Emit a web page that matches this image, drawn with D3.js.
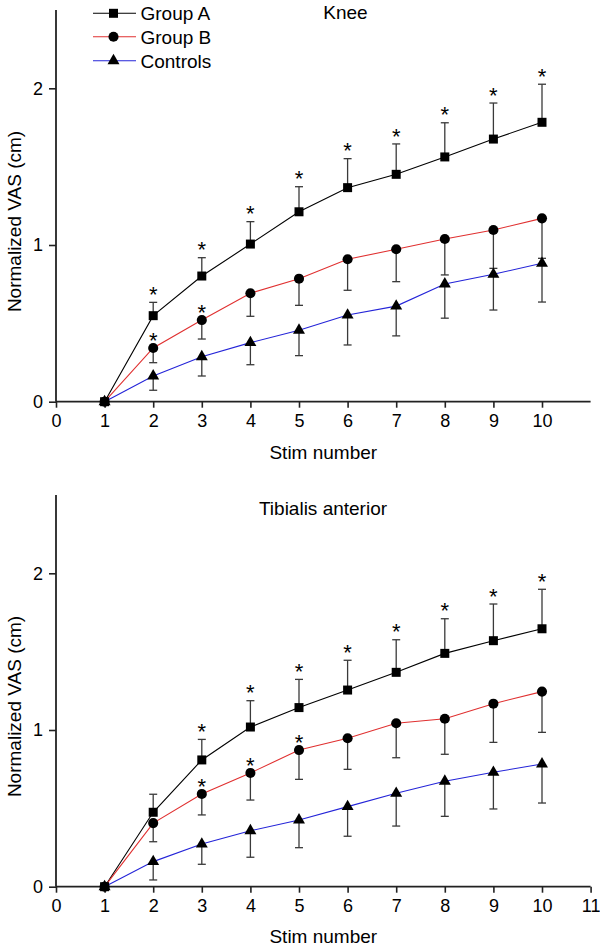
<!DOCTYPE html>
<html>
<head>
<meta charset="utf-8">
<script src="https://cdn.jsdelivr.net/npm/d3@7"></script>
<style>
  html, body { margin: 0; padding: 0; background: #fff; }
  svg { display: block; }
  text { font-family: Arial, "Liberation Sans", Helvetica, sans-serif; fill: #000; }
</style>
</head>
<body>
<svg id="chart" width="600" height="949"></svg>
<script>
// ---------- data ----------
const stims = [1, 2, 3, 4, 5, 6, 7, 8, 9, 10];
const seriesNames = ["Group A", "Group B", "Controls"];
const xTicksTop = [0, 1, 2, 3, 4, 5, 6, 7, 8, 9, 10];
const xTicksBottom = [0, 1, 2, 3, 4, 5, 6, 7, 8, 9, 10, 11];
const yTicks = [0, 1, 2];

// Knee panel
const kneeA    = [0, 0.549, 0.802, 1.006, 1.212, 1.366, 1.451, 1.562, 1.676, 1.783];
const kneeAerr = [0, 0.085, 0.117, 0.143, 0.160, 0.185, 0.194, 0.218, 0.230, 0.243];
const kneeB    = [0, 0.343, 0.521, 0.692, 0.785, 0.909, 0.973, 1.038, 1.096, 1.170];
const kneeBerr = [0, 0.094, 0.121, 0.147, 0.170, 0.198, 0.207, 0.229, 0.245, 0.255];
const kneeC    = [0, 0.164, 0.287, 0.377, 0.456, 0.553, 0.610, 0.751, 0.813, 0.883];
const kneeCerr = [0, 0.091, 0.123, 0.141, 0.162, 0.191, 0.190, 0.218, 0.228, 0.247];
const kneeStarA = [0, 1, 1, 1, 1, 1, 1, 1, 1, 1];
const kneeStarB = [0, 1, 1, 0, 0, 0, 0, 0, 0, 0];

// Tibialis anterior panel
const taA    = [0, 0.475, 0.809, 1.019, 1.143, 1.255, 1.368, 1.489, 1.570, 1.646];
const taAerr = [0, 0.115, 0.131, 0.168, 0.180, 0.190, 0.208, 0.221, 0.234, 0.252];
const taB    = [0, 0.406, 0.592, 0.726, 0.872, 0.947, 1.043, 1.072, 1.168, 1.245];
const taBerr = [0, 0.119, 0.134, 0.173, 0.187, 0.198, 0.220, 0.227, 0.247, 0.260];
const taC    = [0, 0.160, 0.272, 0.357, 0.426, 0.511, 0.596, 0.673, 0.730, 0.783];
const taCerr = [0, 0.117, 0.129, 0.169, 0.177, 0.189, 0.209, 0.224, 0.234, 0.249];
const taStarA = [0, 0, 1, 1, 1, 1, 1, 1, 1, 1];
const taStarB = [0, 0, 1, 1, 1, 0, 0, 0, 0, 0];

// ---------- styles ----------
const colors = ["#000000", "#e03030", "#2424d8"];
const symbols = [d3.symbolSquare, d3.symbolCircle, d3.symbolTriangle];
const symSizes = [81, 80, 62];
const errDir = [1, -1, -1]; // A up, B and Controls down
const FONT = 19;

const svg = d3.select("#chart");

function drawPanel(cfg) {
  const g = svg.append("g");
  const x = d3.scaleLinear().domain([0, 11]).range([56, 590.6]);
  const y = d3.scaleLinear().domain([0, 2.5]).range([cfg.y0, cfg.y0 - 2.5 * 156.7]);

  // axes
  const xAxis = d3.axisBottom(x).tickValues(cfg.xTicks).tickSize(6).tickPadding(7)
    .tickFormat(d3.format("d"));
  const gx = g.append("g").attr("transform", `translate(0,${y(0)})`).call(xAxis);
  const yAxis = d3.axisLeft(y).tickValues(yTicks).tickSize(7).tickPadding(6)
    .tickFormat(d3.format("d"));
  const gy = g.append("g").attr("transform", `translate(${x(0)},0)`).call(yAxis);
  [gx, gy].forEach(a => {
    a.select(".domain").attr("stroke", "#222").attr("stroke-width", 1.8);
    a.selectAll(".tick line").attr("stroke", "#222").attr("stroke-width", 1.6);
    a.selectAll(".tick text").style("font-size", "18px")
      .style("font-family", 'Arial, "Liberation Sans", sans-serif').attr("fill", "#000");
  });
  gx.select(".domain").attr("d", `M${x(0)},0H${x(11)}`);
  gy.select(".domain").attr("d", `M0,${y(0)}V${y(2.5)}`);

  // labels
  g.append("text")
    .attr("transform", `translate(21,${y(1.15)}) rotate(-90)`)
    .attr("text-anchor", "middle").style("font-size", FONT + "px")
    .text("Normalized VAS (cm)");
  g.append("text")
    .attr("x", (x(0) + x(11)) / 2).attr("y", cfg.xLabelY)
    .attr("text-anchor", "middle").style("font-size", FONT + "px")
    .text("Stim number");
  g.append("text")
    .attr("x", cfg.titleX).attr("y", cfg.titleY)
    .attr("text-anchor", "middle").style("font-size", FONT + "px")
    .text(cfg.title);

  const line = d3.line().x((d, i) => x(stims[i])).y(d => y(d));

  // lines
  cfg.values.forEach((vals, s) => {
    g.append("path").datum(vals).attr("d", line)
      .attr("fill", "none").attr("stroke", colors[s]).attr("stroke-width", 1.1);
  });

  // error bars
  cfg.values.forEach((vals, s) => {
    const errs = cfg.errs[s];
    const eg = g.append("g").attr("stroke", "#3a3a3a").attr("stroke-width", 1.3);
    vals.forEach((v, i) => {
      if (errs[i] <= 0) return;
      const xe = x(stims[i]);
      const end = v + errDir[s] * errs[i];
      eg.append("line").attr("x1", xe).attr("x2", xe).attr("y1", y(v)).attr("y2", y(end));
      eg.append("line").attr("x1", xe - 4).attr("x2", xe + 4).attr("y1", y(end)).attr("y2", y(end));
    });
  });

  // markers
  cfg.values.forEach((vals, s) => {
    g.append("g").selectAll("path").data(vals).join("path")
      .attr("transform", (d, i) => `translate(${x(stims[i])},${y(d)})`)
      .attr("d", d3.symbol().type(symbols[s]).size(symSizes[s]))
      .attr("fill", "#000");
  });

  // significance stars
  const starFs = 22;
  const starOff = 0.575 * starFs;
  cfg.starsA.forEach((f, i) => {
    if (!f) return;
    const cy = y(cfg.values[0][i] + cfg.errs[0][i]) - 13;
    g.append("text").attr("x", x(stims[i])).attr("y", cy + starOff)
      .attr("text-anchor", "middle").style("font-size", starFs + "px").text("*");
  });
  cfg.starsB.forEach((f, i) => {
    if (!f) return;
    const cy = y(cfg.values[1][i]) - 13;
    g.append("text").attr("x", x(stims[i])).attr("y", cy + starOff)
      .attr("text-anchor", "middle").style("font-size", starFs + "px").text("*");
  });
}

drawPanel({
  y0: 401.7, xTicks: xTicksTop, xLabelY: 459, title: "Knee", titleX: 345.5, titleY: 19,
  values: [kneeA, kneeB, kneeC], errs: [kneeAerr, kneeBerr, kneeCerr],
  starsA: kneeStarA, starsB: kneeStarB
});
drawPanel({
  y0: 886.7, xTicks: xTicksBottom, xLabelY: 943, title: "Tibialis anterior", titleX: 323, titleY: 515,
  values: [taA, taB, taC], errs: [taAerr, taBerr, taCerr],
  starsA: taStarA, starsB: taStarB
});

// legend
const legend = svg.append("g");
const legendRows = [13.3, 36.7, 60.7];
seriesNames.forEach((name, s) => {
  const ly = legendRows[s];
  legend.append("line").attr("x1", 93).attr("x2", 136).attr("y1", ly).attr("y2", ly)
    .attr("stroke", colors[s]).attr("stroke-width", 1.1);
  legend.append("path").attr("transform", `translate(113.5,${ly})`)
    .attr("d", d3.symbol().type(symbols[s]).size(symSizes[s])).attr("fill", "#000");
  legend.append("text").attr("x", 140.5).attr("y", ly + 6.8)
    .style("font-size", FONT + "px").text(name);
});
</script>
</body>
</html>
